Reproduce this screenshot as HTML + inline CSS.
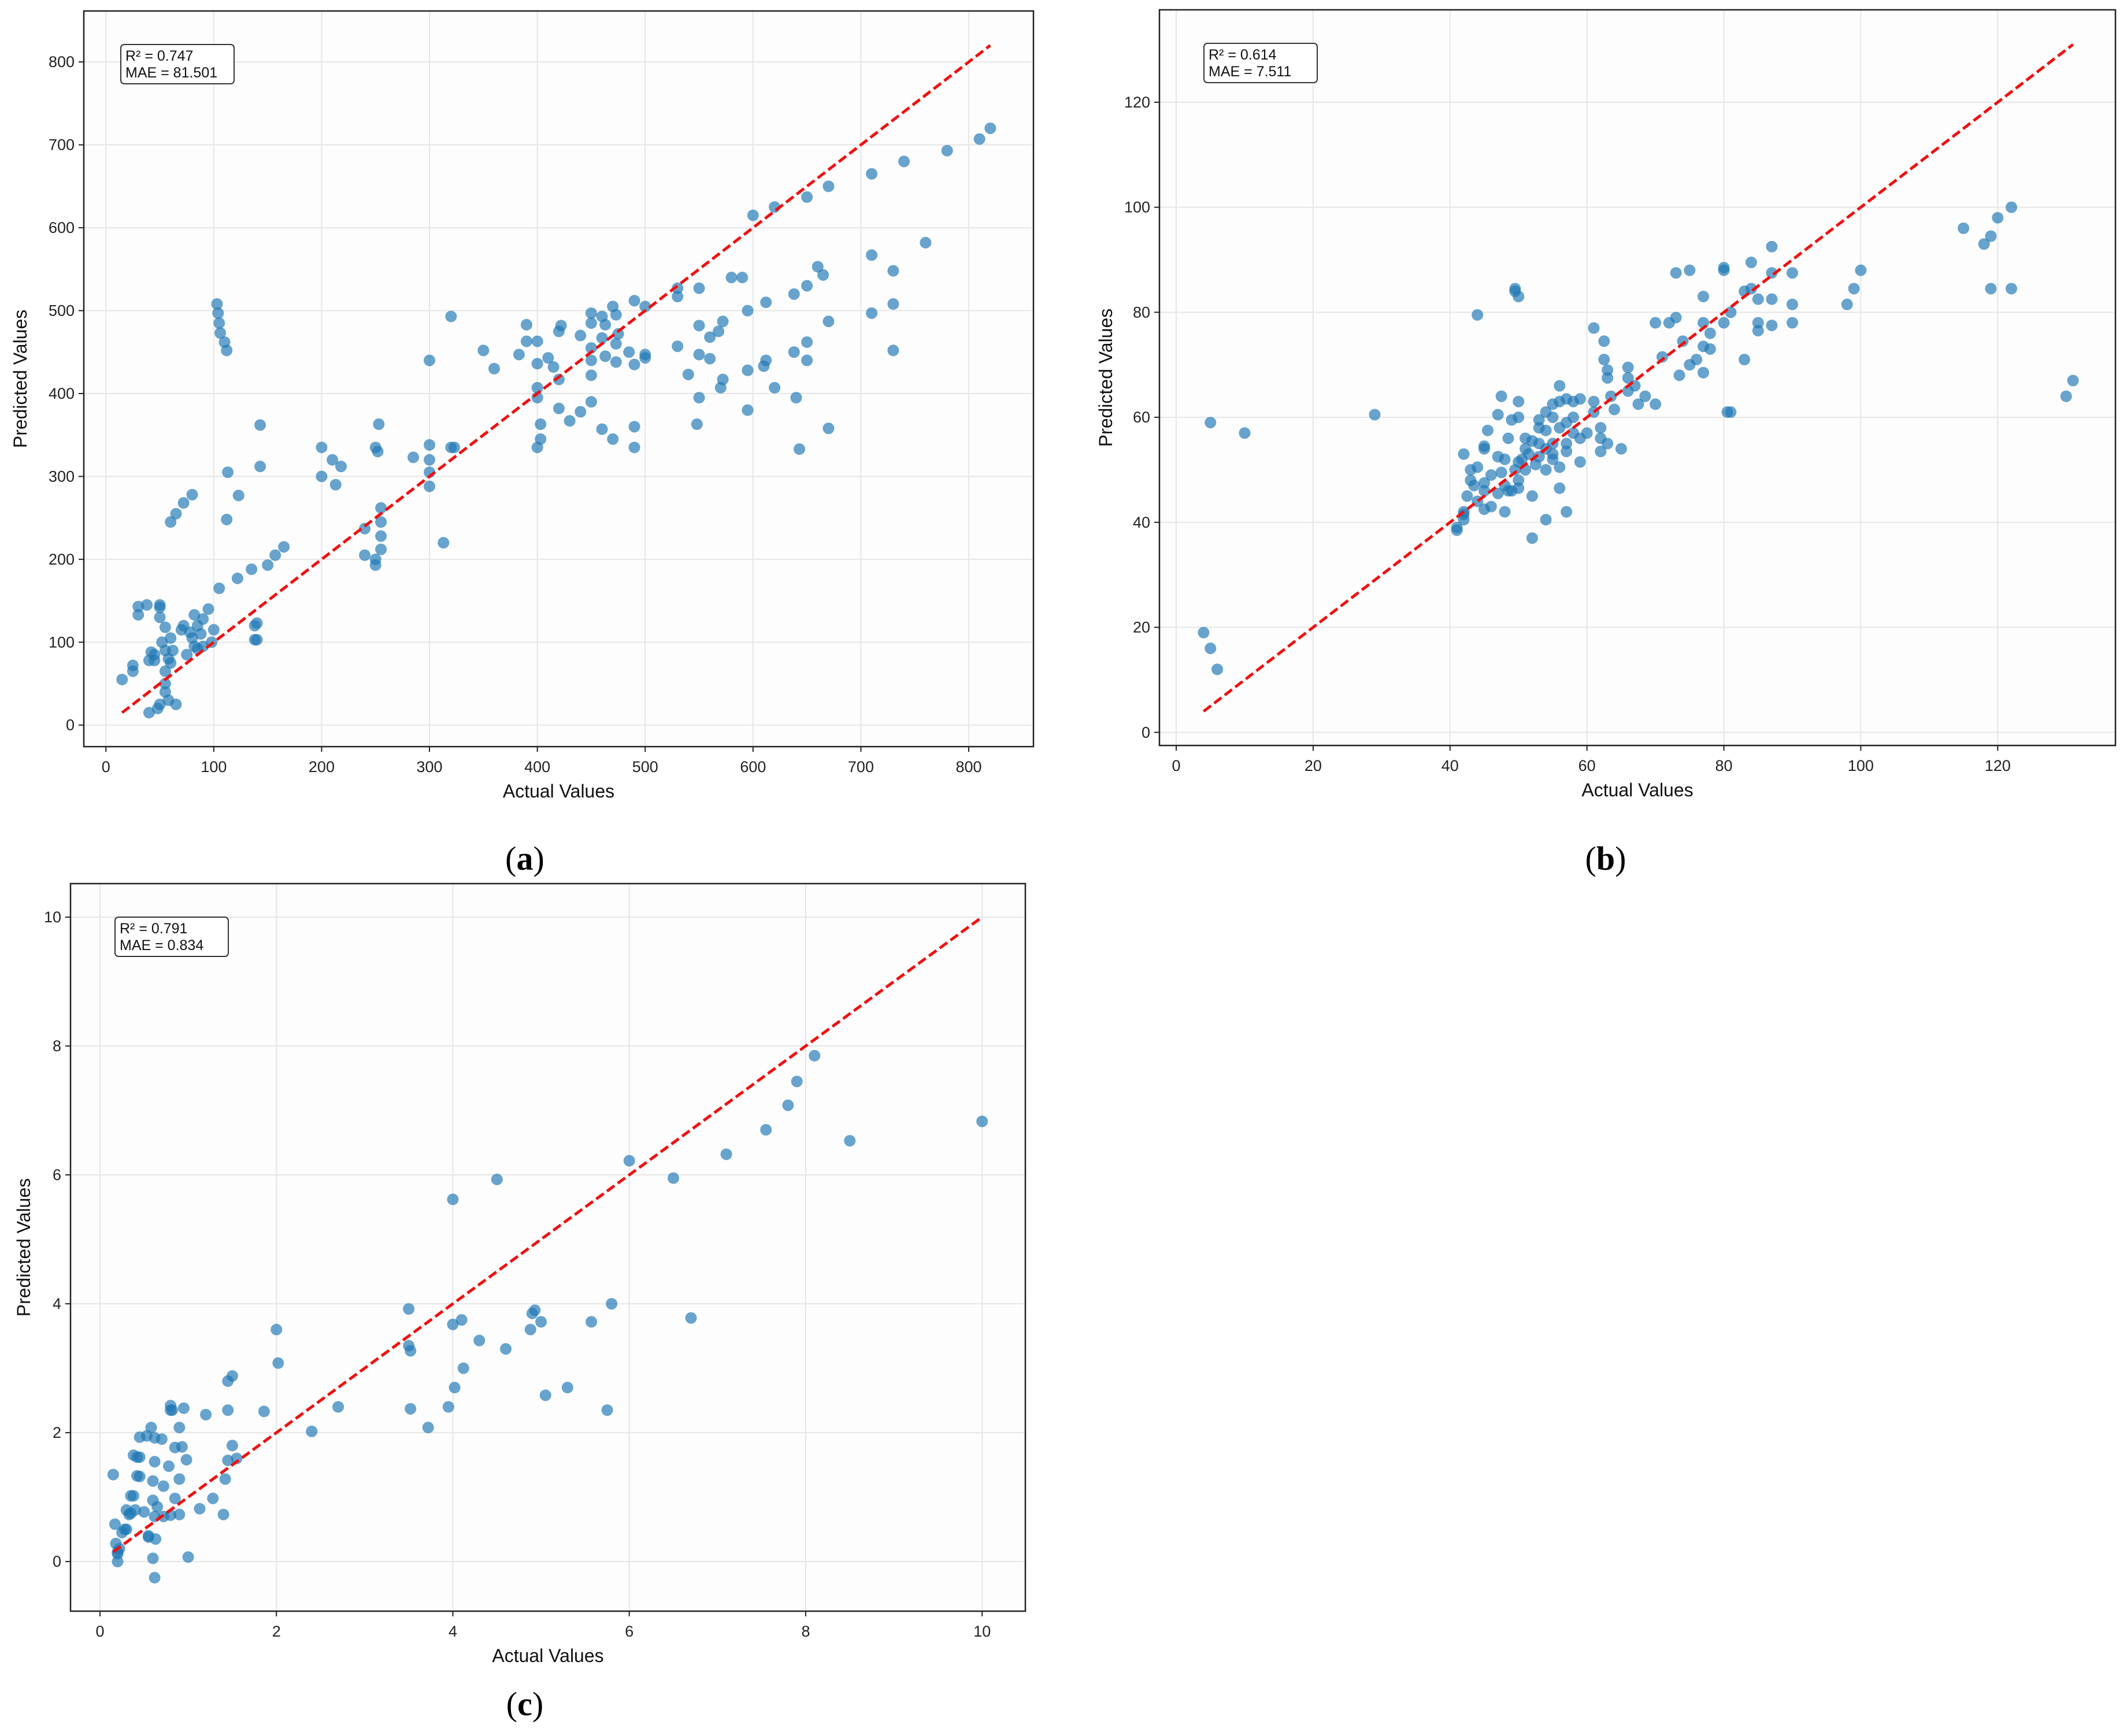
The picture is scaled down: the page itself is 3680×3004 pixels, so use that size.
<!DOCTYPE html>
<html><head><meta charset="utf-8"><style>
html,body{margin:0;padding:0;background:#fff;}
svg{display:block;font-family:"Liberation Sans","DejaVu Sans",sans-serif;}
</style></head><body>
<svg id="fig" width="3680" height="3004" viewBox="0 0 3680 3004" xmlns="http://www.w3.org/2000/svg">
<rect x="0" y="0" width="3680" height="3004" fill="#ffffff"/>
<text x="908" y="1505" font-family="Liberation Serif, serif" font-size="58" text-anchor="middle">(<tspan font-weight="bold">a</tspan>)</text>
<text x="2778" y="1505" font-family="Liberation Serif, serif" font-size="58" text-anchor="middle">(<tspan font-weight="bold">b</tspan>)</text>
<text x="908" y="2968" font-family="Liberation Serif, serif" font-size="58" text-anchor="middle">(<tspan font-weight="bold">c</tspan>)</text>
</svg>
<script>
// ---- Panel A data ----
const aActual = [15,25,25,30,30,38,40,40,42,45,45,48,50,50,50,50,52,55,55,55,55,55,58,58,60,60,62,65,70,72,75,78,80,82,82,85,85,88,90,90,95,98,100,105,60,65,72,80,103,104,105,106,110,112,113,112,123,122,135,138,140,138,140,143,143,150,157,165,
200,200,210,213,218,240,240,250,250,250,252,253,255,255,255,255,285,300,300,300,300,300,313,320,320,323,350,360,383,390,390,400,400,400,400,400,403,403,410,415,420,422,420,420,430,440,440,450,450,450,450,450,450,460,460,460,463,463,470,470,473,473,473,475,485,490,490,490,490,500,500,500,
530,530,530,540,550,550,550,550,548,560,560,568,570,572,572,580,590,595,595,595,600,610,612,612,620,620,638,638,640,643,650,650,650,650,660,665,670,670,670,710,710,710,730,730,730,740,760,780,810,820];
const aPred = [55,65,72,133,143,145,15,78,88,85,78,20,25,130,142,145,100,118,90,40,65,50,30,80,75,105,90,25,115,120,85,112,105,95,133,92,120,110,95,128,140,100,115,165,245,255,268,278,508,497,485,473,462,452,305,248,277,177,188,120,123,103,103,362,312,193,205,215,
300,335,320,290,312,237,205,200,193,335,330,363,262,245,228,212,323,440,338,320,305,288,220,493,335,335,452,430,447,483,463,463,436,407,395,335,363,345,443,432,475,482,417,382,367,470,378,497,485,455,440,422,390,493,467,357,483,445,505,345,495,460,438,472,450,512,435,360,335,505,447,443,
527,517,457,423,527,482,447,395,363,468,442,475,407,487,417,540,540,500,428,380,615,433,510,440,625,407,520,450,395,333,637,530,462,440,553,543,650,487,358,665,567,497,548,508,452,680,582,693,707,720];
const aTicks = [0,100,200,300,400,500,600,700,800];
const aStats = ["R² = 0.747","MAE = 81.501"];

// ---- Panel B data ----
const bActual = [4,5,6,5,10,29,44,49.5,49.5,50,
41,41,42,42,42,42,42.5,43,43,43.5,44,44,45,45,45,45,45,45.5,46,46,47,47,47,47.5,47.5,48,48,48,48.5,48.5,49,49,49.5,50,50,50,50,50,50.5,51,51,51,51.5,52,52,52,52.5,53,53,53,53,54,54,54,54,54,55,55,55,55,55,56,56,56,56,56,57,57,57,57,57,58,58,58,59,59,59,60,61,61,61,62,62,62,62.5,62.5,63,63,63,63.5,64,65,66,66,66,67,67.5,68.5,70,70,71,72,73,73,73.5,74,75,75,76,77,77,77,77,78,78,80,80,80,81,80.5,81,83,83,84,84,85,85,85,87,87,87,87,90,90,90,98,99,100,115,118,119,119,120,122,122,130,131];
const bPred = [19,16,12,59,57,60.5,79.5,84.5,84,83,
38.5,39,41.5,42,40.5,53,45,48,50,47,50.5,44,54,54.5,46,42.5,47.5,57.5,49,43,52.5,45.5,60.5,64,49.5,42,52,47,46,56,46,59.5,50,60,63,48,51.5,46.5,52,50,56,54,53,37,45,55.5,51,58,55,52.5,59.5,54,61,57.5,50,40.5,62.5,55,53,60,52,66,58,50.5,46.5,63,63.5,55,53.5,42,59,63,60,57,63.5,56,51.5,57,77,63,61,58,56,53.5,74.5,71,69,67.5,55,64,61.5,54,69.5,67.5,65,66,62.5,64,78,62.5,71.5,78,87.5,79,68,74.5,88,70,71,83,78,73.5,68.5,76,73,88.5,88,78,80,61,61,84,71,89.5,84.5,82.5,78,76.5,92.5,87.5,82.5,77.5,87.5,81.5,78,81.5,84.5,88,96,93,94.5,84.5,98,100,84.5,64,67];
const bTicks = [0,20,40,60,80,100,120];
const bStats = ["R² = 0.614","MAE = 7.511"];

// ---- Panel C data ----
const cActual = [0.15,0.17,0.18,0.2,0.2,0.2,0.22,0.25,0.28,0.3,0.3,0.33,0.35,0.35,0.38,0.38,0.4,0.42,0.42,0.45,0.45,0.45,0.5,0.53,0.55,0.55,0.58,0.6,0.6,0.6,0.62,0.62,0.62,0.62,0.63,0.65,0.7,0.72,0.72,0.78,0.8,0.8,0.8,0.82,0.85,0.85,0.9,0.9,0.9,0.93,0.95,0.98,1.0,1.13,1.2,1.28,1.4,1.42,1.45,1.45,1.45,1.5,1.5,1.55,1.86,2.0,2.02,2.4,2.7,3.5,3.5,3.52,3.52,3.72,3.95,4.0,4.0,4.02,4.1,4.12,4.3,4.5,4.6,4.88,4.9,4.93,5.0,5.05,5.3,5.57,5.75,5.8,6.0,6.5,6.7,7.1,7.55,7.8,7.9,8.1,8.5,10.0];
const cPred = [1.35,0.58,0.28,0.12,0.15,0,0.2,0.45,0.5,0.8,0.5,0.73,1.02,0.75,1.02,1.65,0.8,1.62,1.33,1.32,1.62,1.93,0.77,1.95,0.38,0.4,2.08,1.25,0.95,0.05,1.55,0.7,1.92,-0.25,0.35,0.85,1.9,1.17,0.7,1.48,0.72,2.42,2.35,2.35,0.98,1.77,1.28,0.73,2.08,1.78,2.38,1.58,0.07,0.82,2.28,0.98,0.73,1.28,2.8,2.35,1.57,2.88,1.8,1.6,2.33,3.6,3.08,2.02,2.4,3.92,3.35,3.27,2.37,2.08,2.4,5.62,3.68,2.7,3.75,3.0,3.43,5.93,3.3,3.6,3.85,3.9,3.72,2.58,2.7,3.72,2.35,4.0,6.22,5.95,3.78,6.32,6.7,7.08,7.45,7.85,6.53,6.83];
const cTicks = [0,2,4,6,8,10];
const cStats = ["R² = 0.791","MAE = 0.834"];

const NS = "http://www.w3.org/2000/svg";
const svg = document.getElementById('fig');
function mk(tag, attrs, parent){ const e=document.createElementNS(NS,tag); for(const k in attrs) e.setAttribute(k,attrs[k]); (parent||svg).appendChild(e); return e; }

function panel(id, fr, xr, yr, actual, pred, ticks, stats, ylabX){
  const g = mk('g',{});
  
  
  const sx = v => fr.l + (v - xr[0])/(xr[1]-xr[0])*(fr.r-fr.l);
  const sy = v => fr.b - (v - yr[0])/(yr[1]-yr[0])*(fr.b-fr.t);
  const bg = mk('rect',{x:fr.l,y:fr.t,width:fr.r-fr.l,height:fr.b-fr.t,fill:'#fdfdfd'},g);
  
  
  ticks.forEach(t=>{
    const x=sx(t), y=sy(t);
    const gx = mk('line',{x1:x,x2:x,y1:fr.t,y2:fr.b,stroke:'#e6e6e6','stroke-width':2},g);
    
    
    const gy = mk('line',{x1:fr.l,x2:fr.r,y1:y,y2:y,stroke:'#e6e6e6','stroke-width':2},g);
    
    
    mk('line',{x1:x,x2:x,y1:fr.b,y2:fr.b+9,stroke:'#222','stroke-width':2},g);
    mk('line',{x1:fr.l-9,x2:fr.l,y1:y,y2:y,stroke:'#222','stroke-width':2},g);
    const tx = mk('text',{x:x,y:fr.b+44,'font-size':27,'text-anchor':'middle',fill:'#222'},g);
    tx.textContent = t;
    
    
    const ty = mk('text',{x:fr.l-16,y:y+9,'font-size':27,'text-anchor':'end',fill:'#222'},g);
    ty.textContent = t;
    
    
  });
  actual.forEach((a,i)=>{
    const c = mk('circle',{cx:sx(a),cy:sy(pred[i]),r:10,fill:'rgba(31,119,180,0.68)'},g);
    
    
  });
  const mn=Math.min(...actual), mx=Math.max(...actual);
  const ln = mk('line',{x1:sx(mn),y1:sy(mn),x2:sx(mx),y2:sy(mx),stroke:'#ee1111','stroke-width':5,'stroke-dasharray':'16,7'},g);
  
  
  const fb = mk('rect',{x:fr.l,y:fr.t,width:fr.r-fr.l,height:fr.b-fr.t,fill:'none',stroke:'#222','stroke-width':2.5},g);
  
  
  const bx = fr.l+ (id==='a'?64:77), by = fr.t+58;
  const box = mk('rect',{x:bx,y:by,width:196,height:68,rx:6,fill:'#fff',stroke:'#333','stroke-width':2},g);
  
  
  stats.forEach((s,i)=>{
    const t = mk('text',{x:bx+8,y:by+28+i*29,'font-size':25,fill:'#111'},g);
    t.textContent = s;
    
    
  });
  const xl = mk('text',{x:(fr.l+fr.r)/2,y:fr.b+88,'font-size':32,'text-anchor':'middle',fill:'#111'},g);
  xl.textContent = 'Actual Values';
  
  
  const yc = (fr.t+fr.b)/2;
  const yl = mk('text',{x:ylabX,y:yc,'font-size':32,'text-anchor':'middle',fill:'#111',transform:`rotate(-90 ${ylabX} ${yc})`},g);
  yl.textContent = 'Predicted Values';
  
  
}
panel('a',{l:145,r:1788,t:19,b:1292},[-20.5,860],[-26,861.5],aActual,aPred,aTicks,aStats,46);
panel('b',{l:2006,r:3660,t:17,b:1290},[-2.45,137.2],[-2.5,137.6],bActual,bPred,bTicks,bStats,1924);
panel('c',{l:122,r:1774,t:1529,b:2788},[-0.334,10.49],[-0.77,10.52],cActual,cPred,cTicks,cStats,52);
</script>
</body></html>
